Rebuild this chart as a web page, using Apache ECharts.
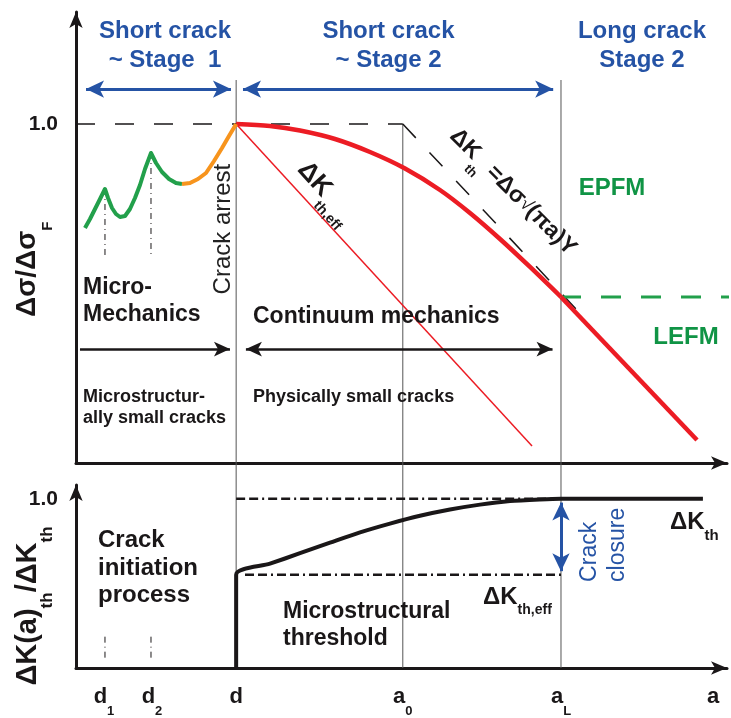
<!DOCTYPE html>
<html><head><meta charset="utf-8">
<script src="https://cdn.jsdelivr.net/npm/echarts@6/dist/echarts.min.js"></script>
<style>html,body{margin:0;padding:0;background:#fff}#c{width:731px;height:718px}</style>
</head><body><div id="c"></div>
<script>
// ---------------- data ----------------
const tickMain = ['d', 'd', 'd', 'a', 'a', 'a'];
const tickSub  = ['1', '2', '',  '0', 'L', ''];
const tickPos  = [4.3, 11.67, 24.6, 50.2, 74.5, 97.85];
const D = tickPos[2], A0 = tickPos[3], AL = tickPos[4];

// upper panel: Δσ/Δσ_F vs crack length
const greenCurve = [[1.38,0.6932],[2.15,0.7198],[2.92,0.7493],[3.69,0.7788],[4.45,0.8083],[4.92,0.7817],[5.53,0.7522],[6.14,0.7345],[6.76,0.7257],[7.53,0.7286],[8.29,0.7493],[9.06,0.7817],[9.83,0.8201],[10.60,0.8673],[11.52,0.9145],[12.29,0.8850],[13.21,0.8584],[14.29,0.8378],[15.36,0.8260],[16.28,0.8230]];
const orangeCurve = [[16.28,0.8230],[17.51,0.8260],[18.74,0.8378],[19.97,0.8555],[21.20,0.8909],[22.43,0.9292],[23.50,0.9646],[24.6,1.0]];
const redTotal = [[24.6,1.0],[29.80,0.9941],[34.41,0.9808],[39.78,0.9558],[45.16,0.9174],[50.54,0.8687],[55.91,0.8053],[60.52,0.7375],[65.13,0.6608],[69.74,0.5782],[74.5,0.4897]];
const redLefm = [[74.5,0.4897],[95.39,0.0678]];
const redEff = [[24.6,1.0],[70.05,0.0501]];
const lefmDashed = [[50.2,1.0],[76.96,0.4513]];
const unityTop = [[0,1.0],[50.2,1.0]];
const transition = [[74.5,0.4897],[100.6,0.4897]];
const peakX = [4.45, 11.52];
const peakY = [0.8083, 0.9145];

// lower panel: ΔK(a)_th/ΔK_th vs crack length
const effLevel = 0.551;
const thresholdCurve = [[24.6,0],[24.6,0.551],[29.80,0.616],[34.41,0.678],[39.02,0.740],[43.63,0.801],[48.23,0.853],[52.84,0.899],[57.45,0.936],[62.06,0.965],[66.67,0.986],[71.27,0.996],[74.5,1.0],[96.3,1.0]];

// ---------------- style ----------------
const FONT = '"Liberation Sans", Arial, Helvetica, sans-serif';
const INK = '#1a1718', BLUE = '#2553a5', GREEN = '#22a04b', GREENT = '#109445', ORANGE = '#f7941d', RED = '#ec1c24', THIN = '#555555';
const DASHDOT = [9, 4, 9, 4, 2, 4];

function L(gi, data, color, width, type, z, smooth) {
  return {type: 'line', xAxisIndex: gi, yAxisIndex: gi, data: data, symbol: 'none', showSymbol: false,
    clip: false, smooth: smooth || false, silent: true, z: z || 2, animation: false,
    lineStyle: {color: color, width: width, type: type || 'solid', cap: 'butt', join: 'round'},
    emphasis: {disabled: true}};
}
function arrowSet(gi, items, z) {
  return {type: 'line', xAxisIndex: gi, yAxisIndex: gi, data: [[-50, -50]], symbol: 'none', clip: false,
    silent: true, z: z || 4, lineStyle: {width: 0},
    markLine: {silent: true, animation: false, label: {show: false}, emphasis: {disabled: true},
      symbol: ['none', 'none'], data: items}};
}
function arr(x1, y1, x2, y2, color, width, s1, s2, size) {
  const ls = {color: color, width: width, type: 'solid'};
  return [{coord: [x1, y1], symbol: s1 ? 'arrow' : 'none', symbolSize: size, lineStyle: ls},
          {coord: [x2, y2], symbol: s2 ? 'arrow' : 'none', symbolSize: size, lineStyle: ls}];
}
function T(x, y, text, st) {
  return {value: [x, y], label: Object.assign({show: true, position: 'inside', formatter: function () { return text; },
    fontFamily: FONT, color: INK, fontWeight: 'bold', fontSize: 23, opacity: 1}, st)};
}
function texts(gi, items) {
  return {type: 'scatter', xAxisIndex: gi, yAxisIndex: gi, symbolSize: 1, clip: false, silent: true, z: 10,
    itemStyle: {color: 'rgba(0,0,0,0)', opacity: 1}, emphasis: {disabled: true}, data: items};
}
const bold = (fs, extra) => Object.assign({fontFamily: FONT, fontWeight: 'bold', fontSize: fs, color: INK}, extra || {});

const series = [];
// vertical reference lines (top and bottom panels)
[[D, 1.1298], [A0, 1.0], [AL, 1.1298]].forEach(function (p) {
  series.push(L(0, [[p[0], p[1]], [p[0], -0.0649]], THIN, 1, 'solid', 1));
  series.push(L(1, [[p[0], 1.081], [p[0], 0]], THIN, 1, 'solid', 1));
});
// dotted grain markers
peakX.forEach(function (x, i) {
  series.push(L(0, [[x, peakY[i]], [x, 0.608]], INK, 1, [6, 4, 1, 4], 1));
  series.push(L(1, [[x, 0.185], [x, 0.04]], INK, 1, [6, 4, 1, 4], 1));
});
// top panel curves
series.push(L(0, unityTop, INK, 1.5, [19, 20], 2));
series.push(L(0, lefmDashed, INK, 1.5, [19, 20], 2));
series.push(L(0, transition, GREEN, 3, [20, 20], 2));
series.push(L(0, redEff, RED, 1.5, 'solid', 3));
series.push(L(0, redTotal, RED, 4.5, 'solid', 4, 0.3));
series.push(L(0, redLefm, RED, 4.5, 'solid', 4));
series.push(L(0, greenCurve, GREEN, 4, 'solid', 4));
series.push(L(0, orangeCurve, ORANGE, 4, 'solid', 4));
// bottom panel curves
series.push(L(1, [[D, 1.0], [AL, 1.0]], INK, 2.5, DASHDOT, 2));
series.push(L(1, [[25.96, effLevel], [AL, effLevel]], INK, 2.5, DASHDOT, 2));
series.push(L(1, thresholdCurve, INK, 4, 'solid', 4, 0.25));

// arrows
series.push(arrowSet(0, [
  arr(1.54, 1.103, 23.8, 1.103, BLUE, 3, true, true, [13, 18]),
  arr(25.65, 1.103, 73.3, 1.103, BLUE, 3, true, true, [13, 18]),
  arr(75.7, 1.103, 100.6, 1.103, BLUE, 3, true, false, [13, 18]),
  arr(0.61, 0.336, 23.65, 0.336, INK, 2.5, false, true, [11, 16]),
  arr(26.1, 0.336, 73.2, 0.336, INK, 2.5, true, true, [11, 16])
]));
series.push(arrowSet(1, [
  arr(AL, 0.977, AL, 0.572, BLUE, 3, true, true, [13, 18])
]));

// texts top
series.push(texts(0, [
  T(13.67, 1.2316, 'Short crack\n~ Stage  1', {color: BLUE, fontSize: 24, lineHeight: 29}),
  T(48.0, 1.2316, 'Short crack\n~ Stage 2', {color: BLUE, fontSize: 24, lineHeight: 29}),
  T(86.94, 1.2316, 'Long crack\nStage 2', {color: BLUE, fontSize: 24, lineHeight: 29}),
  T(22.58, 0.690, 'Crack arrest', {fontWeight: 'normal', fontSize: 24, color: '#222222', rotate: 90}),
  T(82.33, 0.811, 'EPFM', {color: GREENT, fontSize: 24}),
  T(93.70, 0.372, 'LEFM', {color: GREENT, fontSize: 24}),
  T(1.075, 0.476, 'Micro-\nMechanics', {align: 'left', lineHeight: 27}),
  T(27.19, 0.4307, 'Continuum mechanics', {align: 'left'}),
  T(1.075, 0.1637, 'Microstructur-\nally small cracks', {align: 'left', fontSize: 18, lineHeight: 21}),
  T(27.19, 0.1947, 'Physically small cracks', {align: 'left', fontSize: 18}),
  T(38.40, 0.7994, '{m|ΔK}{s|th,eff}', {rotate: -48, rich: {m: bold(26, {lineHeight: 44}), s: bold(14, {verticalAlign: 'bottom'})}}),
  T(67.13, 0.7994, '{m|ΔK}{s|th}{m| =Δσ}{r|√}{m|(πa)Y}', {rotate: -45, rich: {m: bold(23, {lineHeight: 44}), s: bold(13, {verticalAlign: 'bottom'}), r: {fontFamily: FONT, fontSize: 18, color: INK, fontWeight: 'normal'}}}),
  T(-7.53, 0.4307, '{m|Δσ/Δσ}{s|F}', {rotate: 90, align: 'left', rich: {m: bold(28, {lineHeight: 57}), s: bold(15, {verticalAlign: 'bottom'})}})
]));
// texts bottom
series.push(texts(1, [
  T(3.38, 0.5896, 'Crack\ninitiation\nprocess', {align: 'left', fontSize: 24, lineHeight: 27.5}),
  T(31.80, 0.2514, 'Microstructural\nthreshold', {align: 'left', lineHeight: 27}),
  T(91.24, 0.861, '{m|ΔK}{s|th}', {align: 'left', rich: {m: bold(24, {lineHeight: 43}), s: bold(15, {verticalAlign: 'bottom'})}}),
  T(62.52, 0.416, '{m|ΔK}{s|th,eff}', {align: 'left', rich: {m: bold(24, {lineHeight: 40}), s: bold(14, {verticalAlign: 'bottom'})}}),
  T(81.11, 0.5087, 'Crack\nclosure', {align: 'left', rotate: 90, color: BLUE, fontWeight: 'normal', fontSize: 23, lineHeight: 28}),
  T(-7.37, -0.104, '{m|ΔK(a)}{s|th}{m|/ΔK}{s|th}', {rotate: 90, align: 'left', rich: {m: bold(29, {lineHeight: 55}), s: bold(17, {verticalAlign: 'bottom'})}})
]));

const axisLineStyle = {width: 3, color: INK};
const yLabel = {margin: 18, fontFamily: FONT, fontWeight: 'bold', fontSize: 21, color: INK,
  formatter: function (v) { return v === 1 ? '1.0' : ''; }};
const option = {
  animation: false,
  backgroundColor: '#ffffff',
  grid: [
    {left: 76, right: 4, top: 12, height: 451},
    {left: 76, right: 4, top: 485, height: 187}
  ],
  xAxis: [
    {gridIndex: 0, type: 'value', min: 0, max: 100,
      axisLine: {symbol: ['none', 'arrow'], symbolSize: [10, 16], lineStyle: axisLineStyle},
      axisTick: {show: false}, axisLabel: {show: false}, splitLine: {show: false}},
    {gridIndex: 1, type: 'value', min: 0, max: 100,
      axisLine: {symbol: ['none', 'arrow'], symbolSize: [10, 16], lineStyle: axisLineStyle},
      axisTick: {show: false}, splitLine: {show: false},
      axisLabel: {show: true, customValues: tickPos, margin: 7,
        formatter: function (v) {
          for (let i = 0; i < tickPos.length; i++) {
            if (Math.abs(v - tickPos[i]) < 0.01) {
              return '{m|' + tickMain[i] + '}' + (tickSub[i] ? '{s|' + tickSub[i] + '}' : '');
            }
          }
          return '';
        },
        rich: {m: bold(22, {lineHeight: 43}), s: bold(13, {verticalAlign: 'bottom'})}}}
  ],
  yAxis: [
    {gridIndex: 0, type: 'value', min: 0, max: 1.3304, interval: 1,
      axisLine: {symbol: ['none', 'arrow'], symbolSize: [10, 16], lineStyle: axisLineStyle},
      axisTick: {show: false}, splitLine: {show: false}, axisLabel: yLabel},
    {gridIndex: 1, type: 'value', min: 0, max: 1.081, interval: 1,
      axisLine: {symbol: ['none', 'arrow'], symbolSize: [10, 16], lineStyle: axisLineStyle},
      axisTick: {show: false}, splitLine: {show: false}, axisLabel: yLabel}
  ],
  series: series
};
const chart = echarts.init(document.getElementById('c'), null, {renderer: 'canvas'});
chart.setOption(option);
</script>
</body></html>
